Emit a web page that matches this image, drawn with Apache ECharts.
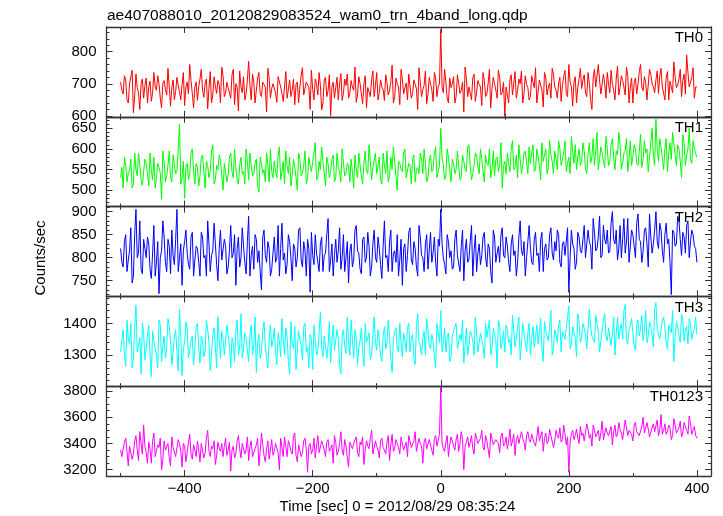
<!DOCTYPE html>
<html><head><meta charset="utf-8">
<script src="https://cdn.jsdelivr.net/npm/echarts@6/dist/echarts.min.js"></script>
<style>html,body{margin:0;padding:0;background:#fff}#c{width:723px;height:516px}</style>
</head><body><div id="c"></div>
<script>
// time bins (s from 2012/08/29 08:35:24): "even" arrays at t = -500 + 4k, "odd" arrays at t = -498 + 4k
const T_START = -500, T_STEP = 4, T_ODD_OFFSET = 2;

const th0 = [705,668,712,640,695,610,730,672,700,655,
718,690,645,735,680,700,625,710,665,742,
688,650,720,675,698,632,705,760,670,690,
648,715,680,700,622,738,665,692,710,640,
726,670,688,655,745,700,615,690,722,668,
770,650,705,680,735,660,698,612,718,685,
700,642,728,670,690,655,712,680,635,705,
690,750,660,700,620,682,715,665,695,640,
720,678,600,705,688,650,732,670,695,655,
710,680,642,722,668,700,625,690,712,660,
735,672,690,648,705,680,758,660,700,635,
715,688,650,725,670,698,620,705,682,740,
665,700,645,718,690,870,672,705,640,688,
722,660,700,680,612,715,690,650,730,675,
698,632,710,668,745,685,700,655,720,672,
598,690,712,665,738,680,700,640,725,688,
660,705,750,675,695,628,718,690,655,730,
680,702,645,722,670,760,690,705,640,715,
685,728,660,700,620,745,690,712,668,700,
735,672,698,650,755,688,710,665,725,690,
640,718,700,760,678,705,655,730,690,712,
670,748,695,720,650,705,768,688,715,660,
730,790,690,720,655,690];
const th0Odd = [680,725,650,700,742,662,688,620,715,695,
640,708,672,690,725,655,702,682,748,630,
712,676,695,650,735,690,668,710,625,705,
690,745,658,715,685,640,722,670,698,752,
660,705,682,728,635,690,740,672,650,712,
695,730,640,718,668,705,690,748,655,700,
672,722,690,645,738,682,660,715,698,640,
725,665,705,690,742,650,700,735,618,712,
660,728,690,655,720,700,648,715,730,672,
690,752,665,700,638,725,688,660,740,695,
650,712,682,728,665,705,640,718,690,745,
668,702,730,655,712,685,750,660,695,638,
720,682,735,660,700,690,745,655,718,700,
640,728,670,705,752,660,692,718,645,710,
690,735,660,702,625,720,680,742,665,705,
690,640,728,700,655,715,740,670,698,650,
725,688,640,712,680,735,665,702,748,690,
655,720,695,742,660,705,630,722,690,748,
712,670,735,650,718,690,760,668,730,655,
700,742,680,715,665,725,690,752,640,718,
705,668,738,690,722,650,745,700,672,740,
725,690,650,738,708,672,720,695,745,710,
668,735,705,750,690];

const th1 = [530,505,560,540,575,515,550,590,525,545,
565,510,548,580,530,555,478,570,535,595,
520,560,545,660,530,480,565,540,600,515,
555,535,585,505,560,545,610,525,550,570,
500,565,540,590,530,555,515,580,545,600,
525,560,540,575,495,565,550,590,520,545,
570,530,605,545,515,560,580,535,555,500,
575,540,595,525,560,545,615,530,550,570,
510,565,545,585,530,555,520,600,540,560,
575,505,550,590,535,565,545,610,525,555,
540,580,515,560,595,535,550,570,500,565,
545,600,530,560,575,520,555,590,540,565,
530,585,550,605,545,650,560,535,580,520,
565,550,595,530,570,545,610,525,560,585,
540,575,520,565,600,550,535,580,560,505,
570,590,545,620,555,530,575,560,595,540,
565,610,550,580,525,570,600,555,585,540,
575,620,560,590,545,580,630,565,550,600,
570,595,540,615,580,560,640,575,590,555,
600,570,625,550,585,610,565,595,545,620,
580,600,560,635,575,590,545,615,585,672,
570,605,550,625,590,575,640,560,600,530,
615,585,650,565,600,580];
const th1Odd = [555,580,520,548,505,590,535,560,512,575,
540,590,525,505,565,542,595,520,560,530,
585,540,600,515,570,555,525,590,545,565,
510,580,545,570,530,595,515,560,585,535,
565,520,580,545,600,525,560,540,515,570,
590,535,565,510,580,540,520,560,600,530,
545,585,525,570,595,540,510,575,530,590,
535,560,515,580,545,590,525,570,605,540,
580,530,575,520,590,545,600,535,565,520,
545,585,530,560,515,595,540,570,555,590,
560,525,590,540,520,580,605,535,570,550,
590,530,565,515,585,550,540,575,600,520,
570,545,590,530,560,580,525,600,550,575,
540,595,525,585,550,605,560,540,590,555,
600,545,585,560,530,595,575,545,615,560,
540,565,600,550,585,610,540,590,565,605,
590,545,600,560,615,585,540,620,570,595,
550,600,575,620,565,540,595,610,580,560,
615,550,590,565,625,595,550,605,570,630,
560,610,580,595,640,550,590,625,575,560,
610,565,595,555,620,600,580,650,560,600,
625,580,600,545,615,640,585,610,570,635,
560,600,575,620,590];

const th2 = [820,780,850,795,865,760,905,810,775,840,
800,830,755,870,790,722,815,845,770,825,
860,785,905,800,740,835,810,775,855,795,
820,760,845,805,880,770,815,830,750,860,
795,825,780,870,810,740,845,800,825,765,
890,805,775,840,815,730,860,790,820,775,
845,800,760,875,810,785,835,750,820,800,
865,780,815,840,725,805,850,790,830,770,
810,885,795,760,840,815,775,850,800,745,
830,795,870,810,765,845,800,825,780,860,
790,820,755,880,805,835,770,815,850,795,
740,830,805,865,785,820,760,845,800,830,
775,855,810,790,840,905,800,765,835,815,
780,860,805,825,750,840,795,870,815,770,
830,805,855,780,820,745,845,810,790,865,
800,825,770,850,815,790,880,805,760,835,
820,785,855,810,840,770,830,800,865,795,
815,850,780,835,805,725,860,820,790,845,
810,870,800,835,775,855,820,890,805,840,
860,815,900,830,795,870,840,810,885,825,
850,800,895,835,815,865,780,845,830,900,
820,860,790,875,840,720,855,830,880,805,
845,870,800,860,825,790];
const th2Odd = [790,835,770,815,745,850,800,880,765,820,
845,775,810,760,835,800,880,790,840,765,
805,840,770,830,815,860,785,845,760,825,
790,855,800,760,830,805,875,785,820,795,
840,765,815,800,850,820,780,865,790,835,
760,825,850,790,770,845,805,835,760,810,
790,870,820,795,765,850,800,830,780,860,
795,835,760,820,855,785,810,770,845,805,
850,770,830,805,790,865,800,770,835,815,
780,860,815,775,840,790,855,760,830,800,
845,785,825,800,770,860,810,790,760,840,
820,770,855,795,835,780,870,805,770,850,
815,790,845,760,825,830,785,850,800,775,
840,805,770,860,815,790,835,760,850,810,
785,845,800,830,770,860,790,825,850,805,
845,790,830,805,760,845,815,835,800,870,
790,840,805,770,855,820,795,850,810,835,
860,790,830,805,865,800,830,775,855,815,
840,800,860,825,885,815,845,800,870,830,
810,875,840,860,820,800,885,835,790,860,
825,875,840,790,860,830,895,810,860,835,
875,815,850,830,790,860,825,890,840,855,
810,880,835,850,820];

const th3 = [1310,1380,1265,1350,1400,1290,1458,1330,1240,1370,
1320,1395,1232,1345,1300,1410,1280,1360,1325,1390,
1270,1355,1310,1445,1235,1340,1385,1295,1360,1320,
1400,1275,1345,1310,1380,1250,1365,1330,1420,1290,
1350,1305,1390,1260,1340,1375,1300,1430,1320,1355,
1280,1395,1330,1245,1365,1310,1405,1290,1350,1325,
1385,1270,1345,1415,1300,1360,1240,1335,1390,1315,
1350,1285,1400,1325,1365,1255,1345,1310,1435,1295,
1360,1330,1275,1395,1320,1350,1240,1380,1305,1345,
1410,1290,1355,1325,1385,1265,1340,1370,1300,1420,
1315,1350,1280,1390,1335,1360,1245,1375,1320,1400,
1295,1345,1385,1310,1365,1270,1430,1330,1355,1300,
1380,1320,1345,1260,1395,1440,1335,1310,1370,1290,
1355,1400,1320,1345,1275,1385,1330,1365,1300,1415,
1340,1375,1290,1355,1410,1320,1365,1260,1395,1345,
1310,1380,1350,1425,1325,1360,1285,1400,1340,1370,
1300,1390,1355,1335,1415,1280,1375,1345,1440,1320,
1365,1395,1310,1380,1350,1455,1335,1370,1295,1405,
1355,1385,1320,1445,1360,1340,1400,1310,1375,1430,
1345,1390,1365,1300,1420,1380,1350,1460,1335,1395,
1370,1315,1410,1385,1345,1440,1360,1390,1325,1465,
1375,1350,1420,1340,1395,1370,1280,1405,1360,1430,
1345,1390,1415,1350,1385,1365];
const th3Odd = [1350,1300,1410,1335,1260,1385,1310,1355,1400,1285,
1365,1300,1375,1340,1260,1395,1330,1290,1415,1345,
1310,1380,1250,1360,1320,1405,1290,1345,1270,1390,
1325,1360,1295,1410,1340,1305,1385,1260,1350,1375,
1300,1395,1330,1355,1280,1410,1325,1290,1370,1315,
1365,1300,1420,1340,1290,1375,1330,1260,1395,1345,
1310,1370,1295,1350,1385,1280,1405,1320,1255,1375,
1330,1390,1310,1260,1350,1395,1300,1370,1325,1360,
1290,1405,1345,1315,1380,1270,1360,1330,1420,1300,
1350,1380,1270,1345,1310,1400,1335,1285,1365,1340,
1380,1295,1360,1320,1410,1290,1350,1385,1310,1340,
1370,1310,1400,1350,1290,1390,1340,1300,1375,1415,
1330,1365,1295,1400,1340,1310,1385,1355,1280,1360,
1390,1320,1365,1410,1330,1300,1375,1345,1420,1310,
1370,1330,1400,1350,1300,1385,1345,1410,1320,1375,
1395,1340,1300,1380,1355,1420,1335,1370,1310,1400,
1350,1325,1395,1370,1320,1405,1360,1390,1300,1380,
1340,1410,1375,1350,1420,1320,1390,1355,1430,1340,
1400,1365,1320,1390,1350,1425,1375,1345,1410,1360,
1385,1330,1420,1370,1350,1400,1440,1345,1380,1415,
1330,1395,1360,1425,1375,1340,1405,1365,1445,1380,
1350,1410,1385,1320,1400,1440,1355,1385,1340,1410,
1380,1335,1400,1370,1420];

const th0123 = [3350,3290,3440,3230,3380,3320,3460,3270,3400,3540,
3330,3410,3250,3480,3310,3370,3200,3420,3340,3290,
3450,3360,3300,3400,3220,3380,3330,3470,3280,3350,
3420,3260,3390,3330,3500,3300,3360,3240,3410,3340,
3300,3440,3350,3190,3380,3320,3460,3290,3400,3350,
3270,3420,3330,3390,3230,3480,3310,3360,3280,3430,
3340,3400,3200,3370,3450,3300,3390,3320,3480,3260,
3380,3330,3440,3180,3400,3350,3290,3460,3320,3390,
3300,3430,3360,3250,3410,3340,3490,3310,3380,3220,
3400,3350,3450,3300,3390,3240,3420,3360,3500,3330,
3380,3290,3440,3350,3410,3270,3470,3360,3400,3320,
3450,3380,3300,3420,3360,3490,3330,3400,3250,3440,
3370,3420,3310,3460,3390,3830,3360,3410,3300,3450,
3380,3430,3340,3490,3200,3410,3370,3460,3320,3440,
3390,3500,3350,3420,3290,3470,3380,3440,3330,3480,
3400,3360,3510,3420,3310,3460,3390,3440,3350,3490,
3410,3470,3380,3530,3430,3340,3480,3420,3460,3370,
3500,3440,3410,3540,3390,3180,3470,3430,3510,3400,
3460,3420,3550,3440,3380,3500,3460,3420,3570,3430,
3480,3450,3390,3540,3470,3510,3430,3580,3460,3490,
3420,3560,3480,3450,3600,3470,3510,3440,3550,3490,
3460,3620,3500,3470,3540,3430,3590,3480,3520,3450,
3560,3500,3610,3470,3530,3440];
const th0123Odd = [3300,3410,3340,3380,3280,3420,3350,3490,3320,3380,
3250,3360,3420,3300,3390,3440,3280,3350,3400,3230,
3370,3300,3430,3340,3400,3260,3410,3320,3390,3300,
3350,3400,3290,3440,3340,3380,3420,3310,3360,3400,
3380,3310,3410,3350,3290,3420,3360,3400,3320,3450,
3380,3300,3360,3440,3340,3390,3260,3420,3350,3310,
3400,3330,3440,3300,3380,3420,3340,3460,3310,3390,
3300,3420,3350,3380,3320,3440,3380,3330,3420,3350,
3410,3340,3390,3460,3310,3400,3350,3430,3300,3410,
3360,3430,3330,3410,3450,3350,3380,3440,3320,3420,
3350,3420,3370,3320,3460,3390,3340,3430,3370,3450,
3350,3410,3460,3370,3420,3340,3440,3380,3410,3360,
3430,3350,3440,3380,3470,3400,3340,3460,3390,3420,
3350,3470,3400,3430,3380,3450,3410,3360,3480,3400,
3440,3370,3460,3410,3480,3390,3430,3400,3460,3380,
3450,3420,3380,3470,3430,3400,3490,3410,3460,3430,
3470,3400,3450,3420,3490,3440,3400,3510,3450,3420,
3460,3520,3430,3470,3450,3410,3500,3460,3440,3530,
3480,3430,3510,3470,3540,3450,3500,3480,3430,3520,
3460,3530,3490,3450,3560,3480,3440,3520,3500,3470,
3540,3490,3460,3530,3480,3560,3450,3520,3490,3580,
3500,3470,3550,3490,3520,3460,3540,3500,3570,3480,
3530,3470,3550,3500,3460];

const panelNames = ['TH0','TH1','TH2','TH3','TH0123'];
const evenValues = [th0, th1, th2, th3, th0123];
const oddValues = [th0Odd, th1Odd, th2Odd, th3Odd, th0123Odd];
const colors = ['#ff0000','#00ff00','#0000ff','#00ffff','#ff00ff'];
const yRanges = [[597,877],[460,678],[716,911],[1202,1485],[3152,3837]];
const yMajor = [[600,700,800],[500,550,600,650],[750,800,850,900],[1300,1400],[3200,3400,3600,3800]];
const yMinorStep = [20,10,10,20,50];
const xMajor = [-400,-200,0,200,400];
const xMinor = [-500,-300,-100,100,300];
const xRange = [-522, 422];

const PLOT_LEFT = 106.5, PLOT_RIGHT = 711, PLOT_TOP = 27, PLOT_BOTTOM = 476;
const PH = (PLOT_BOTTOM - PLOT_TOP) / 5;
const AX = '#333';
const FONT = 'Liberation Sans, Arial, Helvetica, sans-serif';
const minus = v => String(v).replace('-', '\u2212');

function mergeBins(even, odd) {
  const out = [];
  even.forEach((v, k) => {
    out.push([T_START + k * T_STEP, v]);
    if (k < odd.length) out.push([T_START + k * T_STEP + T_ODD_OFFSET, odd[k]]);
  });
  return out;
}

const grids = [], xAxes = [], yAxes = [], series = [], graphics = [];
for (let i = 0; i < 5; i++) {
  const top = PLOT_TOP + PH * i;
  grids.push({left: PLOT_LEFT, top: top, width: PLOT_RIGHT - PLOT_LEFT, height: PH, containLabel: false});
  const minors = [];
  const st = yMinorStep[i];
  for (let v = Math.ceil(yRanges[i][0] / st) * st; v <= yRanges[i][1]; v += st) {
    if (yMajor[i].indexOf(v) < 0) minors.push(v);
  }
  const mkX = (pos, vals, len, line, labels) => ({
    type: 'value', gridIndex: i, min: xRange[0], max: xRange[1], position: pos,
    axisLine: {show: line, onZero: false, lineStyle: {color: AX, width: 1.3}},
    axisTick: {show: true, inside: true, length: len, customValues: vals, lineStyle: {color: AX, width: 1}},
    axisLabel: labels ? {show: true, customValues: xMajor, formatter: minus, margin: 5,
      color: '#000', fontSize: 15, fontFamily: FONT} : {show: false},
    splitLine: {show: false}
  });
  xAxes.push(mkX('bottom', xMajor, 6, true, i === 4));
  xAxes.push(mkX('top', xMajor, 6, true, false));
  xAxes.push(mkX('bottom', xMinor, 3, false, false));
  xAxes.push(mkX('top', xMinor, 3, false, false));
  const mkY = (pos, vals, len, line, labels) => ({
    type: 'value', gridIndex: i, min: yRanges[i][0], max: yRanges[i][1], position: pos,
    axisLine: {show: line, onZero: false, lineStyle: {color: AX, width: 1.3}},
    axisTick: {show: true, inside: true, length: len, customValues: vals, lineStyle: {color: AX, width: 1}},
    axisLabel: labels ? {show: true, customValues: yMajor[i], margin: 10, formatter: v => String(v),
      color: '#000', fontSize: 15, fontFamily: FONT} : {show: false},
    splitLine: {show: false}
  });
  yAxes.push(mkY('left', yMajor[i], 6, true, true));
  yAxes.push(mkY('right', yMajor[i], 6, true, false));
  yAxes.push(mkY('left', minors, 3, false, false));
  yAxes.push(mkY('right', minors, 3, false, false));

  series.push({
    type: 'line', name: panelNames[i], xAxisIndex: 4 * i, yAxisIndex: 4 * i,
    data: mergeBins(evenValues[i], oddValues[i]),
    showSymbol: false, symbol: 'none', silent: true, clip: true,
    lineStyle: {color: colors[i], width: 1}, itemStyle: {color: colors[i]}
  });
  graphics.push({type: 'text', x: 703, y: top + 11, style: {text: panelNames[i], fill: '#000',
    font: '15px ' + FONT, textAlign: 'right', textVerticalAlign: 'middle'}, z: 10});
}
graphics.push({type: 'text', x: 107, y: 15.5, style: {text: 'ae407088010_20120829083524_wam0_trn_4band_long.qdp',
  fill: '#000', font: '15.5px ' + FONT, textAlign: 'left', textVerticalAlign: 'middle'}});
graphics.push({type: 'text', x: 41, y: 258, rotation: Math.PI / 2, style: {text: 'Counts/sec',
  fill: '#000', font: '15px ' + FONT, textAlign: 'center', textVerticalAlign: 'middle'}});
graphics.push({type: 'text', x: 397.5, y: 506.5, style: {text: 'Time [sec] 0 = 2012/08/29 08:35:24',
  fill: '#000', font: '15px ' + FONT, textAlign: 'center', textVerticalAlign: 'middle'}});

const chart = echarts.init(document.getElementById('c'), null, {renderer: 'canvas'});
chart.setOption({
  animation: false, backgroundColor: '#fff',
  grid: grids, xAxis: xAxes, yAxis: yAxes, series: series, graphic: graphics
});
</script></body></html>
